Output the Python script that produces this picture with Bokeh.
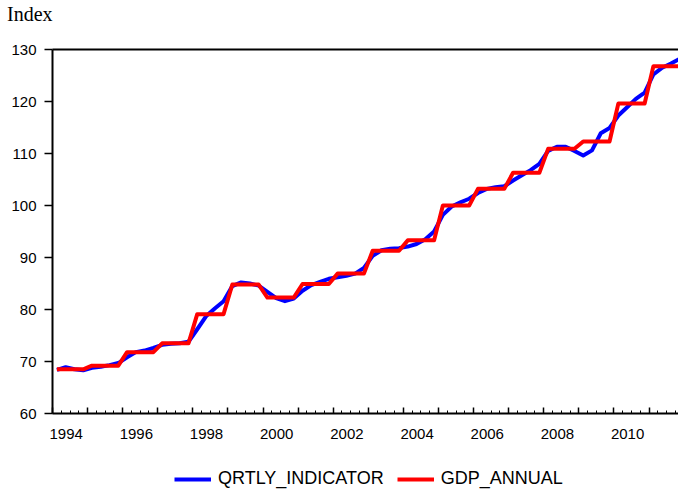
from bokeh.plotting import figure
from bokeh.layouts import column
from bokeh.models import (Range1d, LinearAxis, FixedTicker, Legend, LegendItem,
                          ColumnDataSource, Div)
from bokeh.embed import file_html
from bokeh.resources import INLINE

# ---- data ----
years = list(range(1994, 2012))
gdp_annual = [68.5, 69.2, 71.8, 73.5, 79.1, 84.8, 82.3, 84.9, 86.9, 91.3,
              93.3, 100.0, 103.2, 106.3, 110.9, 112.3, 119.6, 126.8]
qrtly_indicator = [
    68.4, 68.9, 68.5, 68.3,      # 1994
    68.8, 69.0, 69.3, 69.7,      # 1995
    70.8, 71.8, 72.1, 72.6,      # 1996
    73.2, 73.4, 73.5, 73.8,      # 1997
    76.2, 78.7, 80.2, 81.6,      # 1998
    84.5, 85.2, 85.0, 84.6,      # 1999
    83.4, 82.2, 81.6, 82.1,      # 2000
    83.6, 84.7, 85.3, 85.9,      # 2001
    86.2, 86.5, 86.9, 88.0,      # 2002
    90.3, 91.4, 91.7, 91.8,      # 2003
    92.1, 92.6, 93.5, 95.0,      # 2004
    98.2, 99.8, 100.6, 101.3,    # 2005
    102.4, 103.2, 103.5, 103.7,  # 2006
    104.8, 105.8, 106.8, 108.0,  # 2007
    110.5, 111.3, 111.3, 110.5,  # 2008
    109.6, 110.6, 113.9, 114.9,  # 2009
    117.3, 118.9, 120.5, 121.7,  # 2010
    125.2, 126.5, 127.3, 128.2,  # 2011
]
y_ticks = [60, 70, 80, 90, 100, 110, 120, 130]
label_years = [1994, 1996, 1998, 2000, 2002, 2004, 2006, 2008, 2010]
y_title = "Index"
series_names = ["QRTLY_INDICATOR", "GDP_ANNUAL"]

# quarterly time positions (mid-quarter) and annual values repeated per quarter
qx = [y + (q + 0.5) / 4 for y in years for q in range(4)]
gdp_q = [v for v in gdp_annual for _ in range(4)]
src = ColumnDataSource(dict(x=qx, q=qrtly_indicator, a=gdp_q))

SANS = "Liberation Sans"
W = 678

# ---- top strip with the unit title ----
hd = Div(text=y_title, width=W, height=24, margin=0,
         styles={"font-family": "Liberation Serif", "font-size": "20px",
                 "color": "black", "padding-left": "7px", "padding-top": "2px",
                 "line-height": "24px", "box-sizing": "border-box"})

# ---- main chart ----
p = figure(width=W, height=442, output_backend="svg", toolbar_location=None,
           x_range=Range1d(1994, 2011.84), y_range=Range1d(60, 130),
           x_axis_type=None, y_axis_type=None, title=None,
           min_border_left=52, min_border_right=0, min_border_top=25,
           min_border_bottom=53)
p.outline_line_color = None
p.background_fill_color = "white"
p.border_fill_color = "white"

# top border line
top = LinearAxis(ticker=FixedTicker(ticks=[]), axis_line_color="black", axis_line_width=2,
                 major_tick_line_color=None, minor_tick_line_color=None)
p.add_layout(top, "above")

# y axis
yax = LinearAxis(ticker=FixedTicker(ticks=y_ticks))
yax.axis_line_color = "black"
yax.axis_line_width = 2
yax.major_tick_out = 8
yax.major_tick_in = 0
yax.major_tick_line_color = "black"
yax.major_tick_line_width = 1.5
yax.minor_tick_line_color = None
yax.major_label_standoff = 8
yax.major_label_text_font = SANS
yax.major_label_text_font_size = "15px"
yax.major_label_text_color = "black"
p.add_layout(yax, "left")

# x axis: ticks (years major, quarters minor) inside the frame
xt = LinearAxis(ticker=FixedTicker(ticks=years + [2012],
                                   minor_ticks=[y + q / 4 for y in years for q in range(1, 4)]))
xt.axis_line_color = "black"
xt.axis_line_width = 2
xt.major_tick_in = 6
xt.major_tick_out = 0
xt.minor_tick_in = 3
xt.minor_tick_out = 0
xt.major_tick_line_color = "black"
xt.minor_tick_line_color = "black"
xt.major_tick_line_width = 1.5
xt.minor_tick_line_width = 1
xt.major_label_overrides = {y: "" for y in years + [2012]}
xt.major_label_text_font_size = "0px"
xt.major_label_standoff = 0
p.add_layout(xt, "below")

# x axis labels: left-aligned to year ticks
xl = LinearAxis(ticker=FixedTicker(ticks=[y + 0.39 for y in label_years]))
xl.major_label_overrides = {y + 0.39: str(y) for y in label_years}
xl.axis_line_color = None
xl.major_tick_line_color = None
xl.minor_tick_line_color = None
xl.major_label_standoff = 9
xl.major_label_text_font = SANS
xl.major_label_text_font_size = "15px"
xl.major_label_text_color = "black"
p.add_layout(xl, "below")

p.line("x", "q", source=src, line_color="#0000FF", line_width=4, line_join="round")
p.line("x", "a", source=src, line_color="#FF0000", line_width=4, line_join="round")

# ---- legend strip below the chart ----
lg = figure(width=W, height=23, output_backend="svg", toolbar_location=None,
            x_axis_type=None, y_axis_type=None, min_border=0, title=None,
            x_range=Range1d(0, 1), y_range=Range1d(0, 1))
lg.outline_line_color = None
nan_src = ColumnDataSource(dict(x=[float("nan")], y=[float("nan")]))
l_q = lg.line("x", "y", source=nan_src, line_color="#0000FF", line_width=4)
l_a = lg.line("x", "y", source=nan_src, line_color="#FF0000", line_width=4)
legend = Legend(items=[LegendItem(label=series_names[0], renderers=[l_q]),
                       LegendItem(label=series_names[1], renderers=[l_a])],
                orientation="horizontal", location=(122, 0))
legend.label_text_font = SANS
legend.label_text_font_size = "18px"
legend.label_text_color = "black"
legend.glyph_width = 37
legend.glyph_height = 18
legend.label_standoff = 7
legend.spacing = 13
legend.padding = 0
legend.margin = 0
legend.border_line_color = None
legend.background_fill_alpha = 0
lg.add_layout(legend, "center")

layout = column(hd, p, lg, spacing=0)
open("out.html", "w").write(file_html(layout, INLINE))
